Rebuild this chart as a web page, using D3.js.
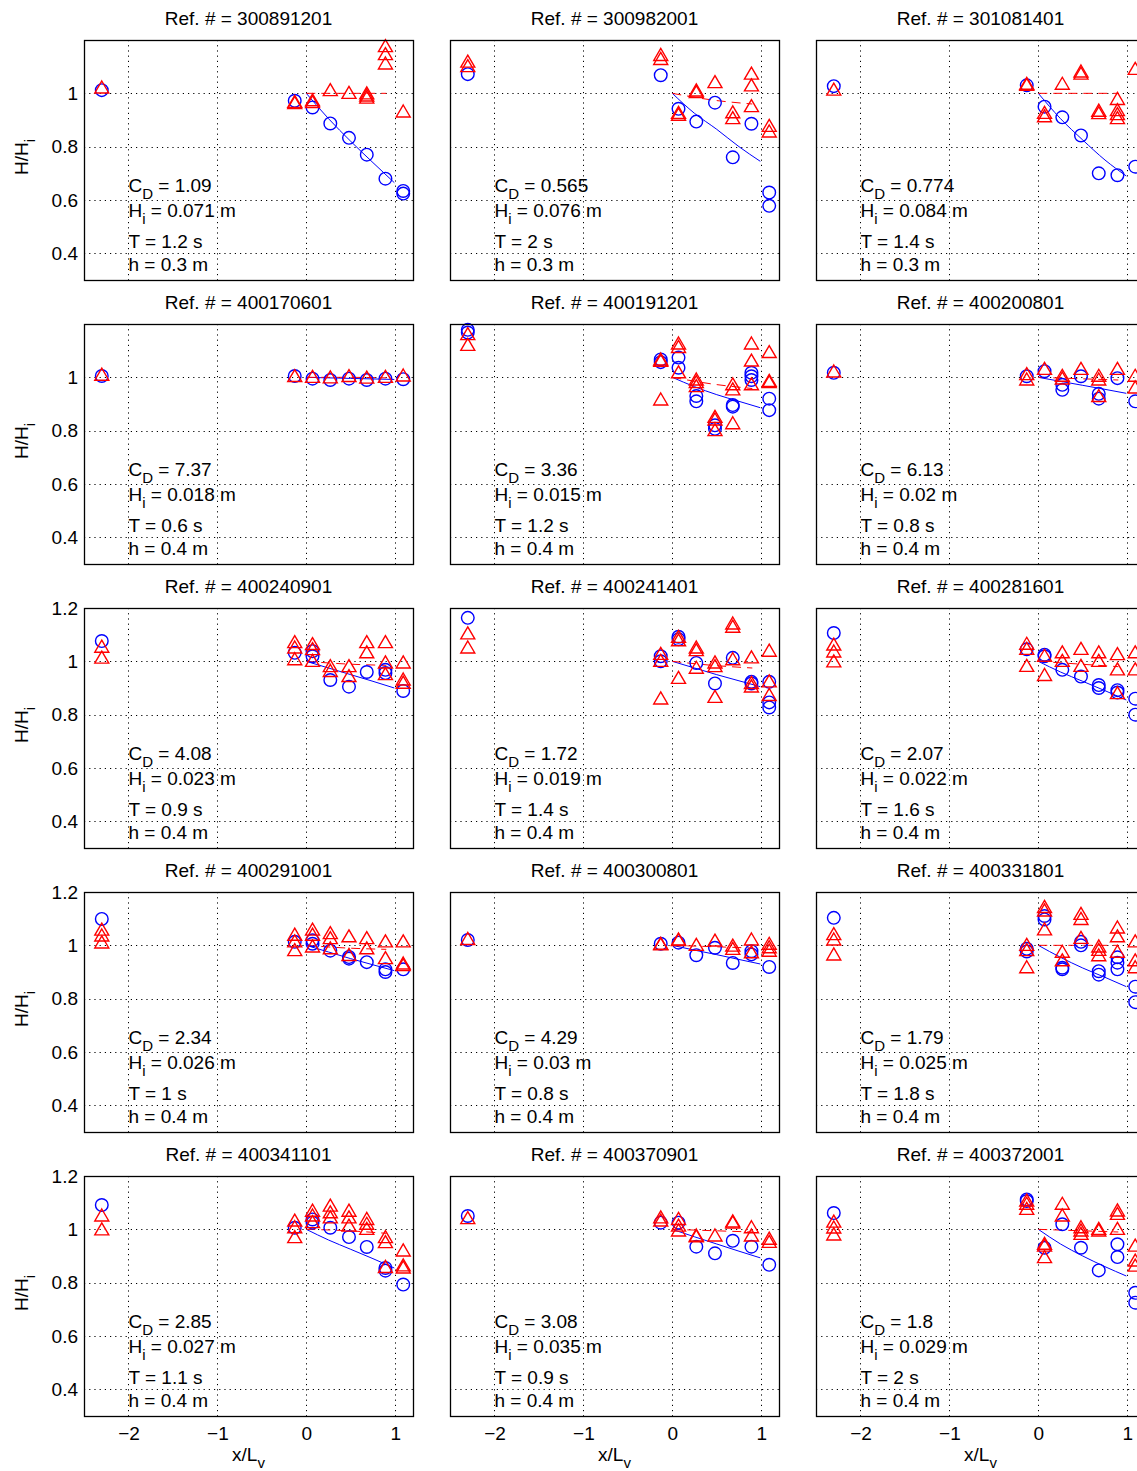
<!DOCTYPE html>
<html>
<head>
<meta charset="utf-8">
<script src="https://cdn.jsdelivr.net/npm/d3@7"></script>
<style>
  body { margin: 0; background: #fff; }
  svg text { font-family: 'Liberation Sans', Arial, Helvetica, sans-serif; white-space: pre; }
</style>
</head>
<body>
<div class="charts"></div>
<script>
// panel info
const refs = ['300891201', '300982001', '301081401', '400170601', '400191201', '400200801',
  '400240901', '400241401', '400281601', '400291001', '400300801', '400331801',
  '400341101', '400370901', '400372001'];
const cdVals = ['1.09', '0.565', '0.774', '7.37', '3.36', '6.13', '4.08', '1.72', '2.07', '2.34', '4.29', '1.79', '2.85', '3.08', '1.8'];
const hiVals = ['0.071', '0.076', '0.084', '0.018', '0.015', '0.02', '0.023', '0.019', '0.022', '0.026', '0.03', '0.025', '0.027', '0.035', '0.029'];
const periods = ['1.2', '2', '1.4', '0.6', '1.2', '0.8', '0.9', '1.4', '1.6', '1', '0.8', '1.8', '1.1', '0.9', '2'];
const depths = ['0.3', '0.3', '0.3', '0.4', '0.4', '0.4', '0.4', '0.4', '0.4', '0.4', '0.4', '0.4', '0.4', '0.4', '0.4'];

// gauge positions x/Lv
const stationX = [-2.3, -0.13, 0.07, 0.27, 0.48, 0.68, 0.89, 1.09];

// measured H/Hi, blue circles (per panel, per gauge)
const blueObs = [
  [[1.012], [0.972], [0.947], [0.887], [0.833], [0.77], [0.68], [0.634, 0.624]],
  [[1.072], [1.068], [0.942], [0.894], [0.965], [0.76], [0.886], [0.628, 0.578]],
  [[1.027], [1.03], [0.95], [0.91], [0.842], [0.70], [0.693], [0.725]],
  [[1.005], [1.005], [0.995], [0.99], [0.995], [0.99], [0.995], [0.993]],
  [[1.178, 1.168], [1.067, 1.057], [1.074, 1.036], [0.93, 0.91], [0.82, 0.807], [0.896, 0.89], [1.017, 1.004, 0.99], [0.92, 0.877]],
  [[1.017], [1.004], [1.023], [0.972, 0.953], [1.004], [0.938, 0.92], [0.997], [0.91]],
  [[1.076], [1.032], [1.038, 1.019], [0.93], [0.905], [0.96], [0.968, 0.956], [0.889]],
  [[1.163], [1.019, 1.0], [1.092, 1.083], [0.994], [0.917], [1.013], [0.923, 0.917], [0.923, 0.846, 0.827]],
  [[1.106], [1.045], [1.025, 1.019], [0.968], [0.943], [0.911, 0.9], [0.892, 0.883], [0.86, 0.80]],
  [[1.099], [1.013], [1.019, 1.006], [0.98], [0.956, 0.95], [0.937], [0.91, 0.9], [0.91]],
  [[1.02], [1.006], [1.01], [0.963], [0.991], [0.934], [0.978, 0.966], [0.919]],
  [[1.103], [0.987, 0.977], [1.11, 1.097], [0.916, 0.91], [1.013, 1.0], [0.903, 0.89], [0.955, 0.935, 0.91], [0.845, 0.787]],
  [[1.091], [1.006], [1.037, 1.025], [1.006], [0.971], [0.934], [0.855, 0.845], [0.793]],
  [[1.05], [1.025], [1.025], [0.935], [0.91], [0.957], [0.935], [0.867]],
  [[1.061], [1.112, 1.106], [0.931], [1.019], [0.931], [0.846], [0.944, 0.896], [0.762, 0.725]]
];

// measured H/Hi, red triangles
const redObs = [
  [[1.02], [0.966, 0.962], [0.972, 0.965], [1.01], [1.0], [0.998, 0.99, 0.982], [1.175, 1.145, 1.11], [0.93]],
  [[1.117, 1.10], [1.142, 1.127], [0.925, 0.918], [1.009, 1.003], [1.04], [0.927, 0.905], [1.072, 1.028, 0.95], [0.876, 0.855]],
  [[1.012], [1.034, 1.03], [0.925, 0.912], [1.034], [1.08, 1.072], [0.933, 0.924], [0.977, 0.935, 0.92, 0.905], [1.09]],
  [[1.008], [1.003], [1.0], [0.998], [1.003], [0.997], [1.0], [1.005]],
  [[1.16, 1.12], [1.065, 1.06, 0.915], [1.125, 1.112, 1.017], [0.99, 0.98, 0.965], [0.85, 0.84, 0.80], [0.972, 0.953, 0.826], [1.125, 1.061, 0.972], [1.093, 0.985, 0.98]],
  [[1.02], [1.01, 0.99], [1.03], [1.004, 0.994], [1.03], [1.004, 0.99, 0.928], [1.03], [1.004, 0.96]],
  [[1.053, 1.012], [1.07, 1.05, 1.006], [1.063, 1.044, 1.0], [0.98, 0.962], [0.98, 0.943], [1.07, 1.032], [1.07, 0.994, 0.95], [0.994, 0.93, 0.918]],
  [[1.103, 1.05], [1.026, 1.0, 0.859], [1.09, 1.077, 0.936], [1.05, 1.04, 0.974], [0.994, 0.98, 0.865], [1.14, 1.128, 1.006], [1.013, 0.917, 0.904], [1.038, 0.923, 0.872]],
  [[1.061, 1.035, 0.998], [1.064, 1.045, 0.981], [1.019, 0.947], [1.032, 1.0], [1.045, 0.981], [1.032, 1.0], [1.025, 0.968, 0.879], [1.032, 0.968]],
  [[1.057, 1.035, 1.009], [1.038, 1.013, 0.98], [1.057, 1.038, 0.994], [1.044, 1.025, 0.987], [1.032, 0.962], [1.025, 0.987], [1.013, 0.95], [1.013, 0.93, 0.924]],
  [[1.022], [1.004, 1.002], [1.02, 1.018], [1.0], [1.016], [0.997, 0.985], [1.02, 0.972], [1.004, 0.991, 0.978]],
  [[1.04, 1.02, 0.964], [1.0, 0.98, 0.916], [1.142, 1.129, 1.058], [0.974, 0.942], [1.116, 1.097, 1.026], [0.994, 0.981, 0.961], [1.065, 1.032, 0.974], [1.013, 0.942, 0.916]],
  [[1.05, 0.998], [1.031, 1.006, 0.969], [1.068, 1.05, 1.025], [1.087, 1.062, 1.043], [1.068, 1.043, 1.012], [1.037, 1.019, 1.0], [0.969, 0.95, 0.857], [0.919, 0.863, 0.855]],
  [[1.04], [1.043, 1.031], [1.037, 1.012, 0.994], [0.975, 0.972], [0.975], [1.028, 1.024], [1.006, 0.975], [0.963, 0.951]],
  [[1.027, 1.005, 0.979], [1.106, 1.094, 1.075], [0.944, 0.937, 0.894], [1.094, 1.05], [1.006, 0.994, 0.981], [1.0, 0.994], [1.069, 1.056, 1.0], [0.937, 0.881, 0.862]]
];

const blueFitX = [0, 0.25, 0.5, 0.75, 0.99];
const blueFitY = [
  [1, 0.905, 0.82, 0.74, 0.665],
  [1, 0.925, 0.865, 0.80, 0.745],
  [1, 0.905, 0.825, 0.75, 0.69],
  [1, 0.998, 0.996, 0.994, 0.992],
  [1, 0.965, 0.935, 0.91, 0.886],
  [1, 0.985, 0.97, 0.955, 0.94],
  [1, 0.975, 0.95, 0.925, 0.90],
  [1, 0.975, 0.95, 0.927, 0.905],
  [1, 0.96, 0.925, 0.89, 0.855],
  [1, 0.975, 0.95, 0.927, 0.905],
  [1, 0.982, 0.965, 0.947, 0.93],
  [1, 0.955, 0.915, 0.88, 0.845],
  [1, 0.96, 0.925, 0.89, 0.855],
  [1, 0.972, 0.945, 0.918, 0.893],
  [1, 0.945, 0.9, 0.86, 0.825]
];

// red dashed curve
const redFitX = [0, 0.45, 0.9];
const redFitY = [
  [1, 1, 1], [1, 0.975, 0.96], [1, 1, 1], [1, 1, 0.998], [1, 0.975, 0.958],
  [1, 0.995, 0.99], [1, 0.99, 0.985], [1, 0.985, 0.975], [1, 0.99, 0.98], [1, 0.99, 0.985],
  [1, 0.995, 0.99], [1, 1, 1], [1, 0.995, 0.985], [1, 0.995, 0.99], [1, 0.995, 0.99]
];

const xTicks = [-2, -1, 0, 1];
const yGrid = [0.4, 0.6, 0.8, 1];
const yTicksShort = [0.4, 0.6, 0.8, 1];
const yTicksLong = [0.4, 0.6, 0.8, 1, 1.2];

const width = 1137, height = 1471;
const pw = 329, ph = 240;
const left0 = 84, top0 = 40, stepX = 366, stepY = 284;
const fs = 19, fsSub = 15;
const blue = '#0000ff', red = '#ff0000';
const triPath = 'M0,-7L7,5L-7,5Z';

const svg = d3.select('.charts')
  .append('svg')
    .attr('width', width)
    .attr('height', height);

// text with a subscript
const subText = (sel, main, sub, rest) => {
  sel.append('tspan').text(main);
  sel.append('tspan').attr('font-size', fsSub).attr('dy', 7).text(sub);
  sel.append('tspan').attr('dy', -7).text(rest);
};

const snap = v => Math.round(v) + 0.5;

refs.forEach((ref, i) => {
  const row = Math.floor(i / 3), col = i % 3;
  const g = svg.append('g')
    .attr('transform', `translate(${left0 + col * stepX}, ${top0 + row * stepY})`);

  const x = d3.scaleLinear().domain([-2.5, 1.2]).range([0, pw]);
  const y = d3.scaleLinear().domain([0.3, 1.2]).range([ph, 0]);

  // title
  g.append('text')
    .attr('x', pw / 2)
    .attr('y', -15)
    .attr('text-anchor', 'middle')
    .attr('font-size', fs)
    .text(`Ref. # = ${ref}`);

  // dotted grid
  g.selectAll('.gx').data(xTicks).enter().append('line')
    .attr('x1', d => snap(x(d))).attr('x2', d => snap(x(d)))
    .attr('y1', 0).attr('y2', ph)
    .attr('stroke', '#000').attr('stroke-width', 1)
    .attr('stroke-dasharray', '1.2,4');
  g.selectAll('.gy').data(yGrid).enter().append('line')
    .attr('x1', 0).attr('x2', pw)
    .attr('y1', d => snap(y(d))).attr('y2', d => snap(y(d)))
    .attr('stroke', '#000').attr('stroke-width', 1)
    .attr('stroke-dasharray', '1.2,4');

  // annotation
  const tx = x(-2);
  subText(g.append('text').attr('x', tx).attr('y', y(0.63)).attr('font-size', fs), 'C', 'D', ` = ${cdVals[i]}`);
  subText(g.append('text').attr('x', tx).attr('y', y(0.535)).attr('font-size', fs), 'H', 'i', ` = ${hiVals[i]} m`);
  g.append('text').attr('x', tx).attr('y', y(0.42)).attr('font-size', fs).text(`T = ${periods[i]} s`);
  g.append('text').attr('x', tx).attr('y', y(0.335)).attr('font-size', fs).text(`h = ${depths[i]} m`);

  // fitted lines
  const line = d3.line().x(d => x(d[0])).y(d => y(d[1])).curve(d3.curveMonotoneX);
  g.append('path')
    .attr('d', line(blueFitX.map((v, k) => [v, blueFitY[i][k]])))
    .attr('fill', 'none').attr('stroke', blue).attr('stroke-width', 1);
  g.append('path')
    .attr('d', line(redFitX.map((v, k) => [v, redFitY[i][k]])))
    .attr('fill', 'none').attr('stroke', red).attr('stroke-width', 1)
    .attr('stroke-dasharray', '9,6');

  // markers
  const circ = blueObs[i].flatMap((vals, s) => vals.map(v => [stationX[s], v]));
  const tri = redObs[i].flatMap((vals, s) => vals.map(v => [stationX[s], v]));

  g.selectAll('circle.obs').data(circ).enter().append('circle')
    .attr('class', 'obs')
    .attr('cx', d => x(d[0]))
    .attr('cy', d => y(d[1]))
    .attr('r', 6.3)
    .attr('fill', 'none')
    .attr('stroke', blue)
    .attr('stroke-width', 1.4);

  g.selectAll('path.tri').data(tri).enter().append('path')
    .attr('class', 'tri')
    .attr('d', triPath)
    .attr('transform', d => `translate(${x(d[0])}, ${y(d[1])})`)
    .attr('fill', 'none')
    .attr('stroke', red)
    .attr('stroke-width', 1.4);

  // box
  g.append('rect')
    .attr('x', 0.5).attr('y', 0.5)
    .attr('width', pw).attr('height', ph)
    .attr('fill', 'none').attr('stroke', '#000').attr('stroke-width', 1.3);

  // y axis labels on first column only
  if (col === 0) {
    const yAxis = d3.axisLeft(y)
      .tickValues(row < 2 ? yTicksShort : yTicksLong)
      .tickSize(0)
      .tickPadding(6)
      .tickFormat(d => String(d));
    const ya = g.append('g').call(yAxis);
    ya.select('.domain').remove();
    ya.selectAll('text').attr('font-size', fs).attr('fill', '#000').attr('font-family', null);

    const yl = g.append('text')
      .attr('transform', `translate(-56, ${ph / 2 - 3}) rotate(-90)`)
      .attr('text-anchor', 'middle')
      .attr('font-size', fs);
    yl.append('tspan').text('H/H');
    yl.append('tspan').attr('font-size', fsSub).attr('dy', 7).text('i');
  }

  // x axis labels on last row only
  if (row === 4) {
    const xAxis = d3.axisBottom(x)
      .tickValues(xTicks)
      .tickSize(0)
      .tickPadding(11)
      .tickFormat(d => d < 0 ? '\u2212' + Math.abs(d) : String(d));
    const xa = g.append('g').attr('transform', `translate(0, ${ph})`).call(xAxis);
    xa.select('.domain').remove();
    xa.selectAll('text').attr('font-size', fs).attr('fill', '#000').attr('font-family', null);

    const xl = g.append('text')
      .attr('x', pw / 2)
      .attr('y', ph + 45)
      .attr('text-anchor', 'middle')
      .attr('font-size', fs);
    xl.append('tspan').text('x/L');
    xl.append('tspan').attr('font-size', fsSub).attr('dy', 7).text('v');
  }
});
</script>
</body>
</html>
